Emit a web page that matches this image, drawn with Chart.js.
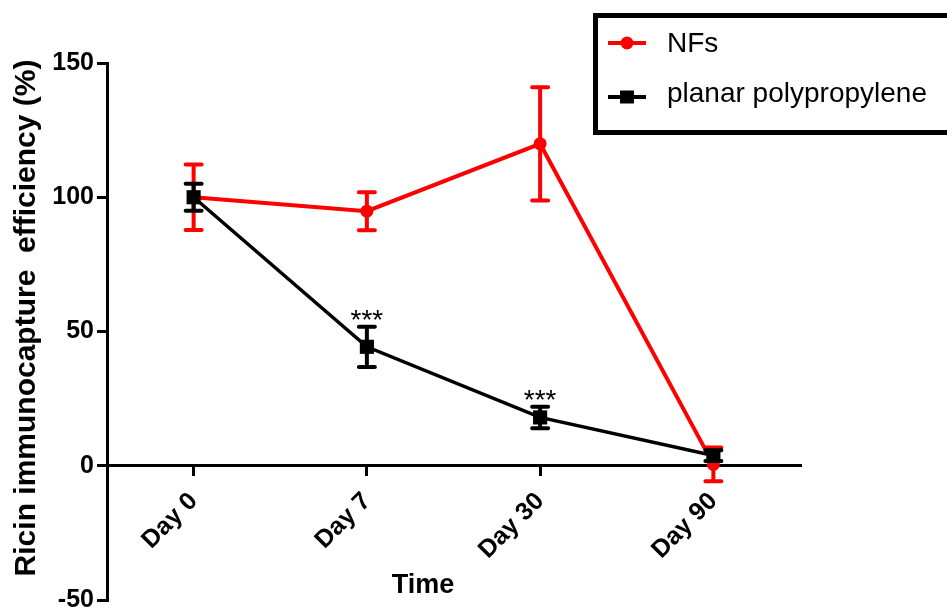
<!DOCTYPE html>
<html>
<head>
<meta charset="utf-8">
<script src="https://cdn.jsdelivr.net/npm/chart.js@4.4.0/dist/chart.umd.min.js"></script>
<style>
  html, body { margin: 0; padding: 0; background: #fff; }
  #wrap { position: relative; width: 947px; height: 610px; }
</style>
</head>
<body>
<div id="wrap"><canvas id="chart"></canvas></div>
<script>
// values
const days = ['Day 0', 'Day 7', 'Day 30', 'Day 90'];
const nfsMean = [100, 94.8, 119.9, 0.5];
const nfsErr = [12.2, 7.1, 21.1, 6.3];
const ppMean = [100, 44.3, 18.0, 3.8];
const ppErr = [5.0, 7.5, 4.0, 2.0];
const ppSig = ['', '***', '***', ''];
const yTicks = [-50, 0, 50, 100, 150];

const FONT = '"Liberation Sans", Arial, sans-serif';

// vertical error bars with caps, drawn under each dataset's line
const errorBars = {
    id: 'errorBars',
    beforeDatasetDraw(chart, args) {
        const ds = chart.data.datasets[args.index];
        if (!ds.errors) return;
        const y = chart.scales.y;
        const ctx = chart.ctx;
        ctx.save();
        ctx.strokeStyle = ds.borderColor;
        ctx.lineWidth = 4;
        args.meta.data.forEach((pt, i) => {
            const top = y.getPixelForValue(ds.data[i] + ds.errors[i]);
            const bot = y.getPixelForValue(ds.data[i] - ds.errors[i]);
            ctx.lineCap = 'butt';
            ctx.beginPath();
            ctx.moveTo(pt.x, top);
            ctx.lineTo(pt.x, bot);
            ctx.stroke();
            ctx.lineCap = 'round';
            ctx.beginPath();
            ctx.moveTo(pt.x - 8, top); ctx.lineTo(pt.x + 8, top);
            ctx.moveTo(pt.x - 8, bot); ctx.lineTo(pt.x + 8, bot);
            ctx.stroke();
        });
        ctx.restore();
    }
};

// axis titles, significance stars and the boxed legend
const decorations = {
    id: 'decorations',
    afterDraw(chart) {
        const ctx = chart.ctx;
        const y = chart.scales.y;
        ctx.save();
        ctx.fillStyle = '#000';

        // y title
        ctx.save();
        ctx.translate(35, 318);
        ctx.rotate(-Math.PI / 2);
        ctx.font = 'bold 30px ' + FONT;
        ctx.textAlign = 'center';
        ctx.textBaseline = 'alphabetic';
        ctx.fillText('Ricin immunocapture  efficiency (%)', 0, 0);
        ctx.restore();

        // x title
        ctx.font = 'bold 27px ' + FONT;
        ctx.textAlign = 'center';
        ctx.textBaseline = 'alphabetic';
        ctx.fillText('Time', 423, 593);

        // stars above the planar polypropylene points
        const meta = chart.getDatasetMeta(1);
        ctx.font = '28px ' + FONT;
        ppSig.forEach((s, i) => {
            if (!s) return;
            const m = ctx.measureText(s);
            const center = y.getPixelForValue(ppMean[i] + ppErr[i]) - 12;
            const base = center + (m.actualBoundingBoxAscent - m.actualBoundingBoxDescent) / 2;
            ctx.fillText(s, meta.data[i].x, base);
        });

        // legend box
        ctx.fillStyle = '#fff';
        ctx.fillRect(595, 15, 360, 118);
        ctx.strokeStyle = '#000';
        ctx.lineWidth = 5;
        ctx.strokeRect(595.5, 15.5, 370, 117);

        const rows = [
            { ds: chart.data.datasets[0], ly: 43, by: 52 },
            { ds: chart.data.datasets[1], ly: 97, by: 102 }
        ];
        rows.forEach(r => {
            ctx.strokeStyle = r.ds.borderColor;
            ctx.lineWidth = 4;
            ctx.beginPath();
            ctx.moveTo(608, r.ly);
            ctx.lineTo(646, r.ly);
            ctx.stroke();
            ctx.fillStyle = r.ds.borderColor;
            if (r.ds.pointStyle === 'circle') {
                ctx.beginPath();
                ctx.arc(627, r.ly, 6.5, 0, Math.PI * 2);
                ctx.fill();
            } else {
                ctx.fillRect(620, r.ly - 6.5, 14, 13);
            }
            ctx.fillStyle = '#000';
            ctx.font = '28px ' + FONT;
            ctx.textAlign = 'left';
            ctx.fillText(r.ds.label, 667, r.by);
        });
        ctx.restore();
    }
};

new Chart(document.getElementById('chart').getContext('2d'), {
    type: 'line',
    data: {
        labels: days,
        datasets: [{
            label: 'NFs',
            data: nfsMean,
            errors: nfsErr,
            borderColor: '#ff0000',
            backgroundColor: '#ff0000',
            borderWidth: 4,
            pointStyle: 'circle',
            pointRadius: 6.5,
            pointBorderWidth: 0,
            tension: 0,
            order: 1
        }, {
            label: 'planar polypropylene',
            data: ppMean,
            errors: ppErr,
            borderColor: '#000000',
            backgroundColor: '#000000',
            borderWidth: 3.5,
            pointStyle: 'rect',
            pointRadius: 10,
            pointBorderWidth: 0,
            tension: 0,
            order: 0
        }]
    },
    options: {
        responsive: true,
        maintainAspectRatio: false,
        animation: false,
        layout: { padding: { left: 0, top: 63, right: 147, bottom: 2 } },
        plugins: {
            legend: { display: false },
            tooltip: { enabled: false }
        },
        scales: {
            x: {
                type: 'category',
                offset: true,
                position: { y: 0 },
                afterFit: s => { s.height = 0; s.paddingLeft = 0; s.paddingRight = 0; },
                border: { display: true, color: '#000', width: 3 },
                grid: { drawOnChartArea: false, drawTicks: true, tickLength: 9, lineWidth: 3, color: '#000' },
                ticks: {
                    color: '#000',
                    font: { family: FONT, size: 25, weight: 'bold' },
                    minRotation: 45,
                    maxRotation: 45,
                    padding: 12
                }
            },
            y: {
                position: 'left',
                min: -50,
                max: 150,
                afterFit: s => { s.width = 107; s.paddingTop = 0; s.paddingBottom = 0; },
                afterBuildTicks: s => { s.ticks = yTicks.map(v => ({ value: v })); },
                border: { display: true, color: '#000', width: 3 },
                grid: { drawOnChartArea: false, drawTicks: true, tickLength: 10, lineWidth: 3, color: '#000' },
                ticks: {
                    color: '#000',
                    font: { family: FONT, size: 25, weight: 'bold' },
                    padding: 3
                }
            }
        }
    },
    plugins: [errorBars, decorations]
});
</script>
</body>
</html>
